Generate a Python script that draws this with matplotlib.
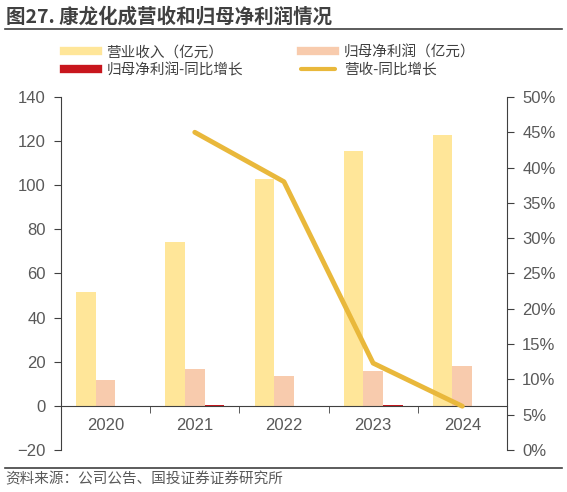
import numpy as np
import matplotlib.pyplot as plt
from matplotlib.lines import Line2D
from matplotlib.ticker import FuncFormatter

plt.rcParams['font.family'] = ['Noto Sans CJK SC', 'DejaVu Sans']

# 数据
years = ['2020', '2021', '2022', '2023', '2024']
revenue = [51.4, 74.4, 102.7, 115.4, 122.8]          # 营业收入（亿元）
net_profit = [11.7, 16.6, 13.7, 16.0, 18.0]          # 归母净利润（亿元）
profit_yoy = [0.0, 0.4, -0.7, 0.2, 0.15]             # 归母净利润-同比增长
rev_yoy = [None, 45.0, 38.0, 12.3, 6.2]              # 营收-同比增长（%）

c_rev = '#FFE699'
c_np = '#F8CBAD'
c_npy = '#C8161D'
c_line = '#E9B83B'
c_txt = '#595959'
c_ax = '#404040'

fig = plt.figure(figsize=(5.67, 4.92), dpi=100)
ax = fig.add_axes([0.1076, 0.0854, 0.7864, 0.7175])
ax2 = ax.twinx()

x = np.arange(len(years))
w = 0.22
ax.bar(x - w, revenue, w, color=c_rev, zorder=2)
ax.bar(x, net_profit, w, color=c_np, zorder=2)
ax.bar(x + w, profit_yoy, w, color=c_npy, zorder=2)

xs = [i for i, v in zip(x, rev_yoy) if v is not None]
ys = [v for v in rev_yoy if v is not None]
ax2.plot(xs, ys, color=c_line, lw=3.5, solid_capstyle='round', zorder=3)

ax.set_xlim(-0.5, 4.5)
ax.set_ylim(-20, 140)
ax.set_yticks(range(-20, 141, 20))
ax2.set_ylim(0, 50)
ax2.set_yticks(range(0, 51, 5))
ax2.yaxis.set_major_formatter(FuncFormatter(lambda v, p: f'{v:.0f}%'))

# 横轴放在 0 处
ax.spines['bottom'].set_position(('data', 0))
ax.spines['bottom'].set_color(c_ax)
ax.set_xticks(x)
ax.set_xticklabels(years)
ax.set_xticks(np.arange(0.5, 4.0, 1), minor=True)
ax.tick_params(axis='x', which='major', length=0, pad=9, labelcolor=c_txt, labelsize=12)
ax.tick_params(axis='x', which='minor', length=5, color=c_ax, direction='out')

ax.spines['top'].set_visible(False)
ax.spines['right'].set_visible(False)
ax.spines['left'].set_color(c_ax)
for s in ('top', 'bottom', 'left'):
    ax2.spines[s].set_visible(False)
ax2.spines['right'].set_color(c_ax)

ax.tick_params(axis='y', length=5, color=c_ax, labelcolor=c_txt, labelsize=12, pad=6)
ax2.tick_params(axis='y', length=5, color=c_ax, labelcolor=c_txt, labelsize=12, pad=6)
for lab in ax.get_xticklabels() + ax.get_yticklabels() + ax2.get_yticklabels():
    lab.set_family(['Liberation Sans', 'DejaVu Sans'])

handles = [
    Line2D([0], [0], color=c_rev, lw=6),
    Line2D([0], [0], color=c_np, lw=6),
    Line2D([0], [0], color=c_npy, lw=6),
    Line2D([0], [0], color=c_line, lw=3, solid_capstyle='round'),
]
labels = ['营业收入（亿元）', '归母净利润（亿元）', '归母净利润-同比增长', '营收-同比增长']
order = [0, 2, 1, 3]
fig.legend([handles[i] for i in order], [labels[i] for i in order],
           ncol=2, loc='upper left', bbox_to_anchor=(0.09, 0.935),
           frameon=False, fontsize=10.5, handlelength=2.3,
           columnspacing=4.0, labelspacing=0.25, handletextpad=0.6,
           labelcolor=c_ax)

fig.text(0.01, 0.965, '图27. 康龙化成营收和归母净利润情况', fontsize=14,
         fontweight='bold', color=c_ax, va='center')
fig.add_artist(Line2D([0.008, 0.992], [0.941, 0.941], color=c_ax, lw=1.2))
fig.add_artist(Line2D([0.008, 0.992], [0.049, 0.049], color=c_ax, lw=1.2))
fig.text(0.01, 0.026, '资料来源：公司公告、国投证券证券研究所', fontsize=10.5,
         color=c_txt, style='italic', va='center')

fig.savefig('out.png', dpi=100)
